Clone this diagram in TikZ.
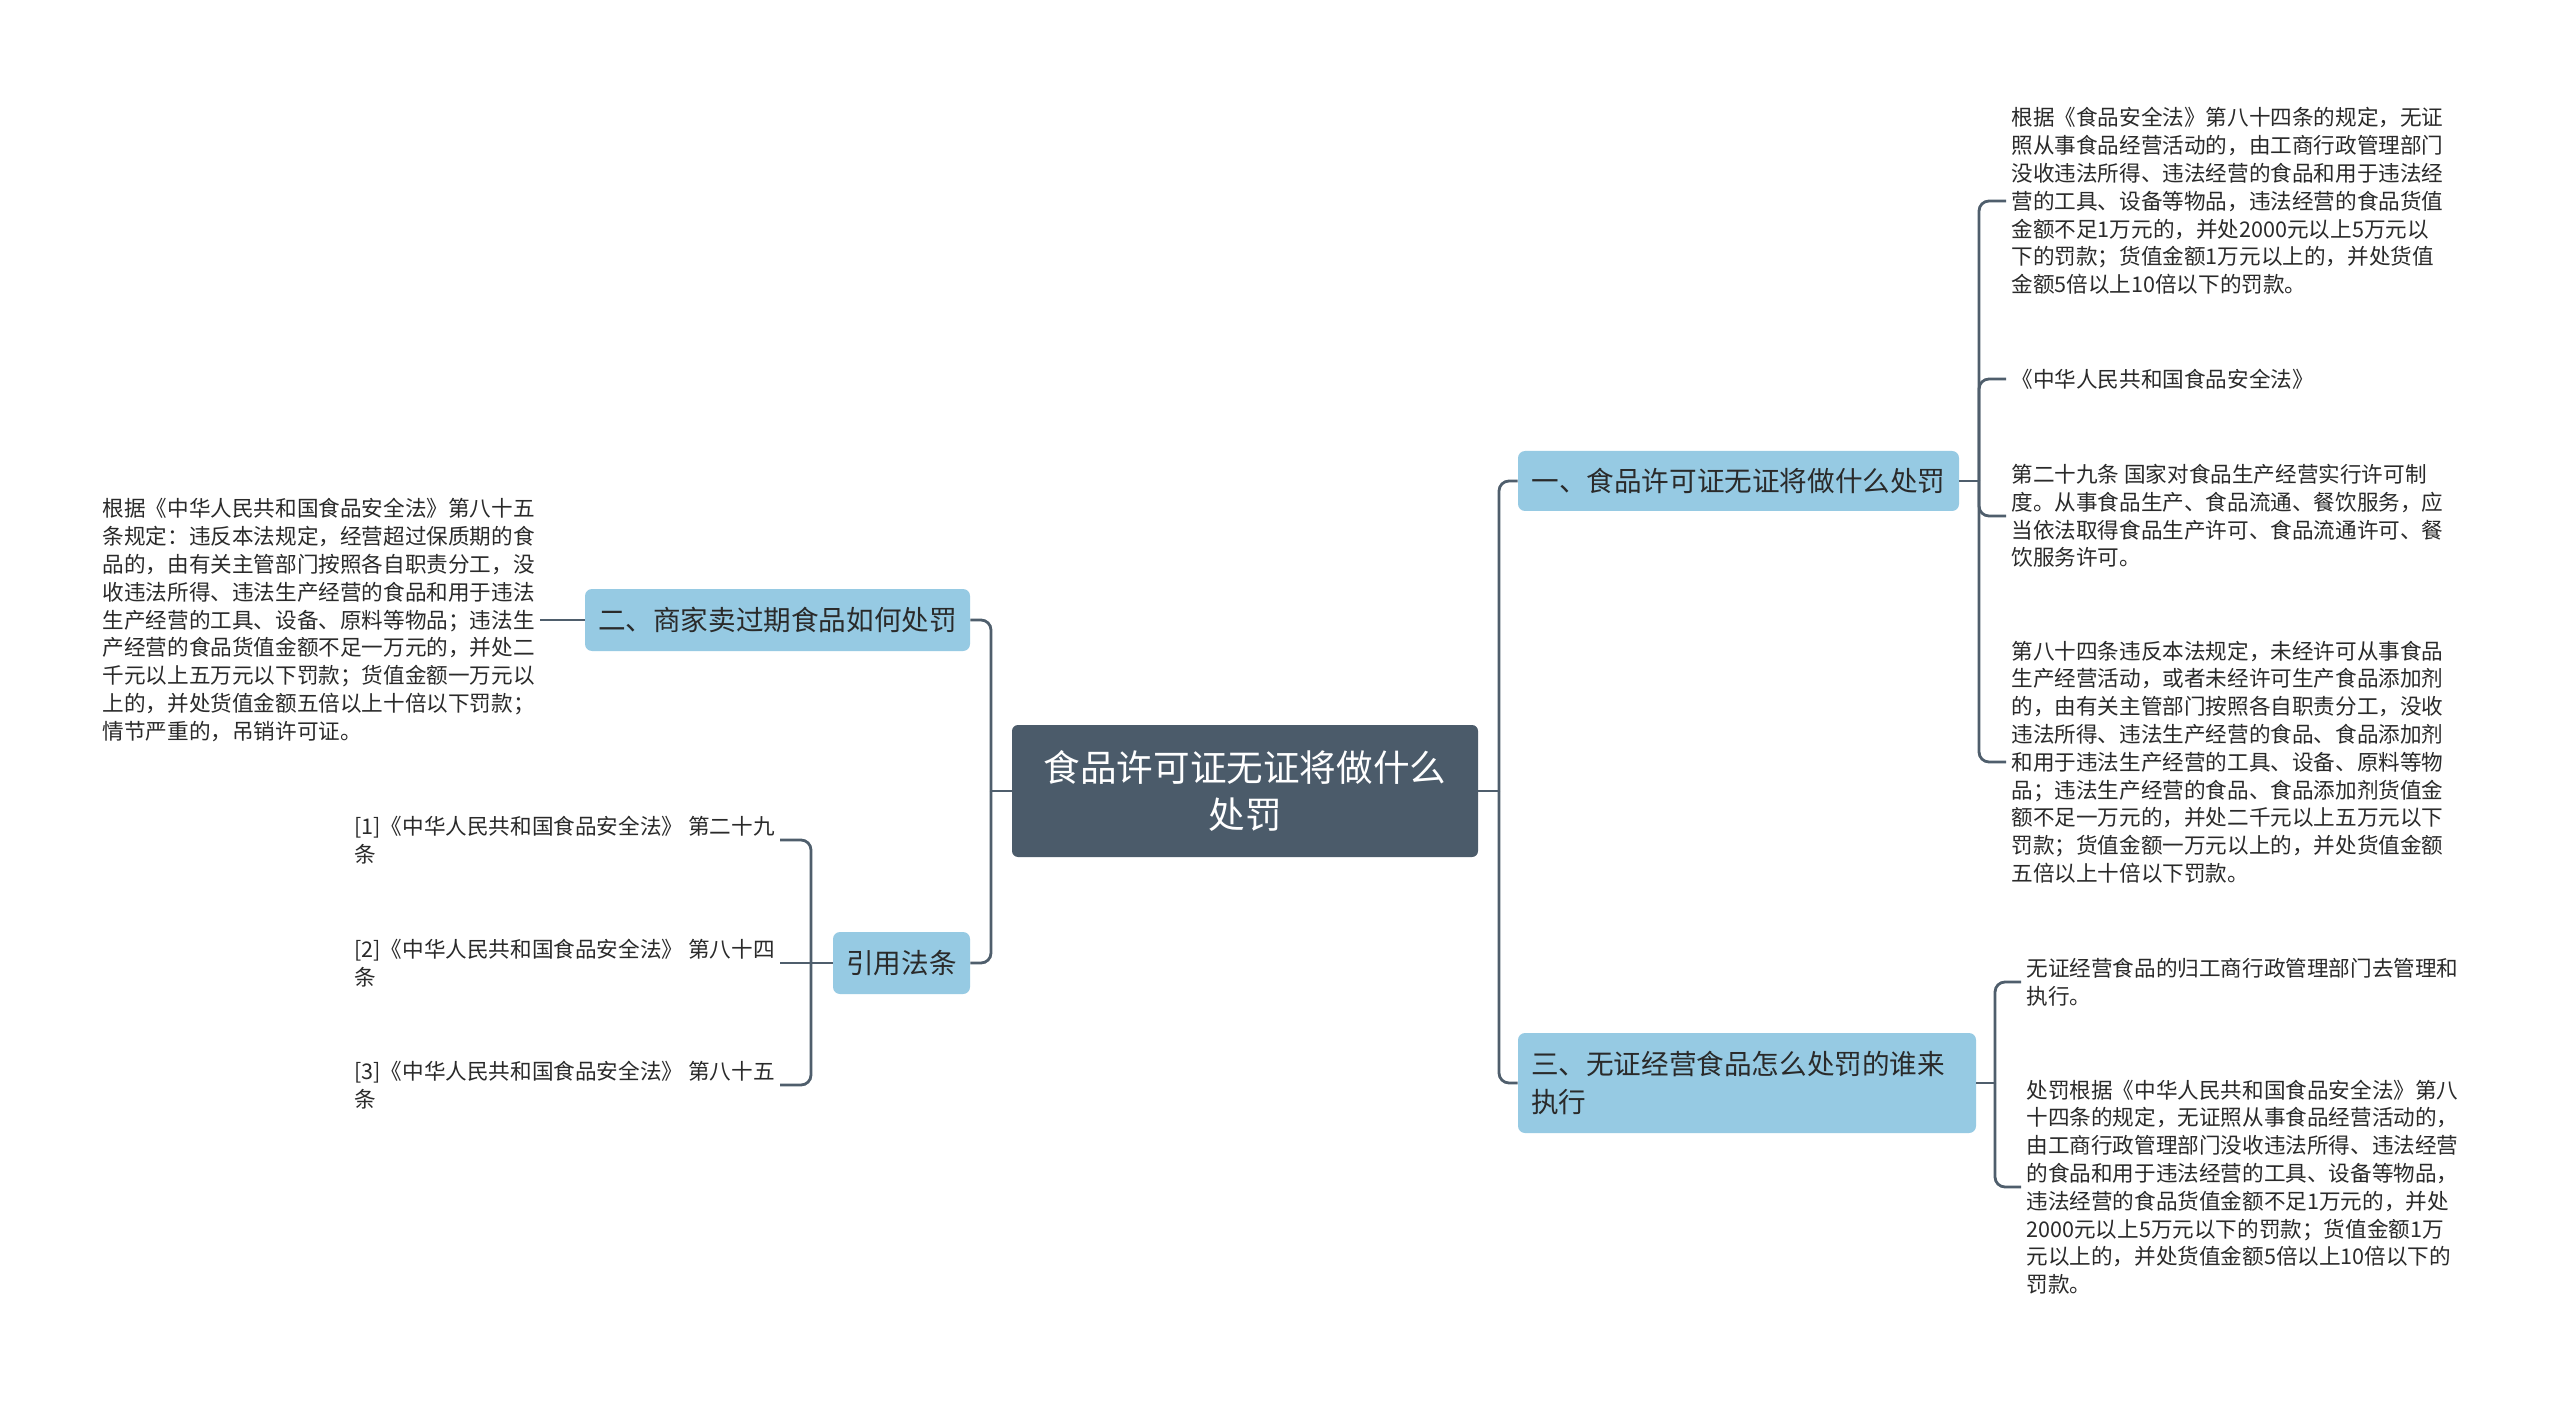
\documentclass[tikz,border=0pt]{standalone}
\usepackage{fontspec}
\setmainfont{Noto Sans CJK SC}
\definecolor{rootc}{HTML}{4B5B6A}
\definecolor{linec}{HTML}{4F5E6C}
\definecolor{branchc}{HTML}{96CAE3}
\definecolor{textc}{HTML}{2A2A2A}
\begin{document}
\begin{tikzpicture}[x=0.5pt,y=-0.5pt,
  conn/.style={draw=linec, line width=1.4pt, rounded corners=5pt},
  rootbox/.style={fill=rootc, rounded corners=3pt, text=white, minimum width=233pt, minimum height=66pt, align=center, font=\fontsize{18.3}{23.7}\selectfont, inner sep=0pt},
  branchbox/.style={fill=branchc, rounded corners=3.5pt, text=textc, align=left, font=\fontsize{13.8}{18.8}\selectfont, inner sep=0pt, minimum height=31pt},
  leaf/.style={text=textc, align=left, font=\fontsize{10.8}{13.9}\selectfont, inner sep=2.5pt}
]
\useasboundingbox (0,0) rectangle (2560,1401);
\fill[white] (0,0) rectangle (2560,1401);

% root and branches
\node[rootbox] (root) at (1245,791) {食品许可证无证将做什么\\处罚};
\node[branchbox, minimum width=220.5pt, minimum height=30pt] (b1) at (1738.5,481) {一、食品许可证无证将做什么处罚};
\node[branchbox, text width=216pt, inner xsep=6.5pt, minimum height=50pt] (b3) at (1747,1083) {三、无证经营食品怎么处罚的谁来\\执行};
\node[branchbox, minimum width=192.5pt] (b2) at (777.5,620) {二、商家卖过期食品如何处罚};
\node[branchbox, minimum width=68.5pt, align=center] (b4) at (901.5,963) {引用法条};

% right leaves of b1
\node[leaf, anchor=west] (l11) at (2006,201) {根据《食品安全法》第八十四条的规定，无证\\照从事食品经营活动的，由工商行政管理部门\\没收违法所得、违法经营的食品和用于违法经\\营的工具、设备等物品，违法经营的食品货值\\金额不足1万元的，并处2000元以上5万元以\\下的罚款；货值金额1万元以上的，并处货值\\金额5倍以上10倍以下的罚款。};
\node[leaf, anchor=west] (l12) at (2006,379) {《中华人民共和国食品安全法》};
\node[leaf, anchor=west] (l13) at (2006,516) {第二十九条 国家对食品生产经营实行许可制\\度。从事食品生产、食品流通、餐饮服务，应\\当依法取得食品生产许可、食品流通许可、餐\\饮服务许可。};
\node[leaf, anchor=west] (l14) at (2006,762) {第八十四条违反本法规定，未经许可从事食品\\生产经营活动，或者未经许可生产食品添加剂\\的，由有关主管部门按照各自职责分工，没收\\违法所得、违法生产经营的食品、食品添加剂\\和用于违法生产经营的工具、设备、原料等物\\品；违法生产经营的食品、食品添加剂货值金\\额不足一万元的，并处二千元以上五万元以下\\罚款；货值金额一万元以上的，并处货值金额\\五倍以上十倍以下罚款。};

% right leaves of b3
\node[leaf, anchor=west] (l31) at (2021,982) {无证经营食品的归工商行政管理部门去管理和\\执行。};
\node[leaf, anchor=west] (l32) at (2021,1187) {处罚根据《中华人民共和国食品安全法》第八\\十四条的规定，无证照从事食品经营活动的，\\由工商行政管理部门没收违法所得、违法经营\\的食品和用于违法经营的工具、设备等物品，\\违法经营的食品货值金额不足1万元的，并处\\2000元以上5万元以下的罚款；货值金额1万\\元以上的，并处货值金额5倍以上10倍以下的\\罚款。};

% left leaf of b2
\node[leaf, anchor=east] (l21) at (540,620) {根据《中华人民共和国食品安全法》第八十五\\条规定：违反本法规定，经营超过保质期的食\\品的，由有关主管部门按照各自职责分工，没\\收违法所得、违法生产经营的食品和用于违法\\生产经营的工具、设备、原料等物品；违法生\\产经营的食品货值金额不足一万元的，并处二\\千元以上五万元以下罚款；货值金额一万元以\\上的，并处货值金额五倍以上十倍以下罚款；\\情节严重的，吊销许可证。};

% citations of b4
\node[leaf, anchor=east] (c1) at (780,840) {[1]《中华人民共和国食品安全法》 第二十九\\条};
\node[leaf, anchor=east] (c2) at (780,963) {[2]《中华人民共和国食品安全法》 第八十四\\条};
\node[leaf, anchor=east] (c3) at (780,1085) {[3]《中华人民共和国食品安全法》 第八十五\\条};

% junction coordinates
\coordinate (rj) at (1499,791);
\coordinate (lj) at (991,791);
\coordinate (b1j) at (1979,481);
\coordinate (b3j) at (1995,1083);
\coordinate (b4j) at (811,963);

% connectors
\draw[conn] (root.east) -- (rj);
\draw[conn] (rj) |- (b1.west);
\draw[conn] (rj) |- (b3.west);
\draw[conn] (root.west) -- (lj);
\draw[conn] (lj) |- (b2.east);
\draw[conn] (lj) |- (b4.east);

\draw[conn] (b1.east) -- (b1j);
\draw[conn] (b1j) |- (l11.west);
\draw[conn] (b1j) |- (l12.west);
\draw[conn] (b1j) |- (l13.west);
\draw[conn] (b1j) |- (l14.west);

\draw[conn] (b3.east) -- (b3j);
\draw[conn] (b3j) |- (l31.west);
\draw[conn] (b3j) |- (l32.west);

\draw[conn] (b2.west) -- (l21.east);

\draw[conn] (b4.west) -- (b4j);
\draw[conn] (b4j) |- (c1.east);
\draw[conn] (b4j) -- (c2.east);
\draw[conn] (b4j) |- (c3.east);
\end{tikzpicture}
\end{document}
